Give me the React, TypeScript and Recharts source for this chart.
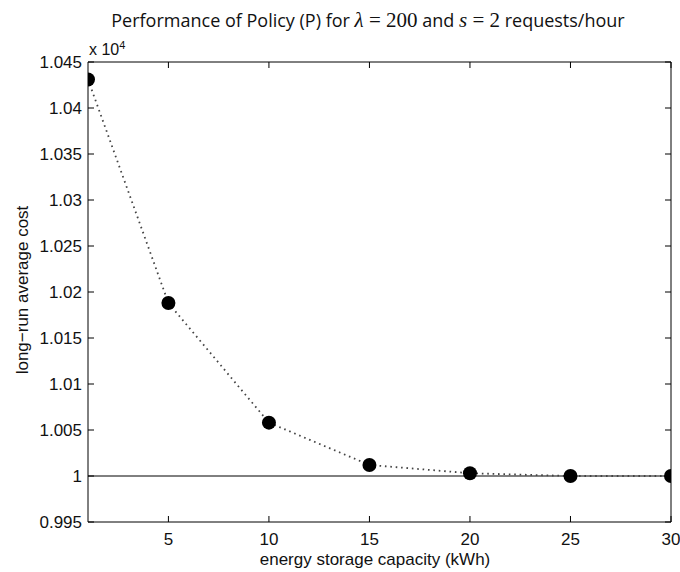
import React from 'react';
import { LineChart, Line, XAxis, YAxis, ReferenceLine } from 'recharts';

// storage capacity (kWh) and long-run average cost (x 10^4)
const capacity = [1, 5, 10, 15, 20, 25, 30];
const avgCost = [1.0431, 1.0188, 1.0058, 1.0012, 1.0003, 1.0, 1.0];

const xTicks = [5, 10, 15, 20, 25, 30];
const yTicks = [0.995, 1.0, 1.005, 1.01, 1.015, 1.02, 1.025, 1.03, 1.035, 1.04, 1.045];

const data = capacity.map((c, i) => ({ capacity: c, cost: avgCost[i] }));

const W = 680;
const H = 572;
const FONT = '"Liberation Sans", Arial, sans-serif';
const tickStyle = { fontFamily: FONT, fontSize: 17, fill: '#111' };
const fmtY = (v: number) => String(Number(v.toFixed(3)));
const blank = () => '';
const math = { fontFamily: '"Liberation Serif", serif', fontSize: 21 };

export default function App() {
  return (
    <div style={{ position: 'absolute', left: 0, top: 0, width: W, height: H, background: '#fff', overflow: 'hidden' }}>
      <div
        style={{
          position: 'absolute', top: 20, left: 368, transform: 'translate(-50%, -50%)',
          fontFamily: '"Open Sans", sans-serif', fontSize: 18, color: '#111', whiteSpace: 'nowrap',
        }}
      >
        Performance of Policy (P) for <span style={math}><i>λ</i> = 200</span> and{' '}
        <span style={math}><i>s</i> = 2</span> requests/hour
      </div>
      <div style={{ position: 'absolute', left: 89, top: 39, fontFamily: FONT, fontSize: 16, color: '#111' }}>
        x 10<sup style={{ fontSize: 11 }}>4</sup>
      </div>
      <div
        style={{
          position: 'absolute', left: 23, top: 290, transform: 'translate(-50%, -50%) rotate(-90deg)',
          fontFamily: FONT, fontSize: 17, color: '#111', whiteSpace: 'nowrap',
        }}
      >
        long−run average cost
      </div>
      <div
        style={{
          position: 'absolute', left: 375, top: 560, transform: 'translate(-50%, -50%)',
          fontFamily: FONT, fontSize: 17, color: '#111', whiteSpace: 'nowrap',
        }}
      >
        energy storage capacity (kWh)
      </div>
      <LineChart width={W} height={H} data={data} margin={{ top: 61, right: 8, bottom: 20, left: 28 }}>
        <XAxis
          dataKey="capacity"
          type="number"
          domain={[1, 30]}
          ticks={xTicks}
          allowDataOverflow
          height={30}
          stroke="#000"
          tickSize={-6}
          tickMargin={17}
          tick={tickStyle}
        />
        <XAxis
          xAxisId="top"
          orientation="top"
          dataKey="capacity"
          type="number"
          domain={[1, 30]}
          ticks={xTicks}
          allowDataOverflow
          height={1}
          stroke="#000"
          tickSize={-6}
          tickFormatter={blank}
        />
        <YAxis
          type="number"
          domain={[0.995, 1.045]}
          ticks={yTicks}
          allowDataOverflow
          width={60}
          stroke="#000"
          tickSize={-6}
          tickMargin={12}
          tick={tickStyle}
          tickFormatter={fmtY}
        />
        <YAxis
          yAxisId="right"
          orientation="right"
          type="number"
          domain={[0.995, 1.045]}
          ticks={yTicks}
          allowDataOverflow
          width={1}
          stroke="#000"
          tickSize={-6}
          tickFormatter={blank}
        />
        <ReferenceLine y={1} stroke="#000" strokeWidth={1} />
        {/* invisible copy so the top and right axes have a series bound to them */}
        <Line
          xAxisId="top"
          yAxisId="right"
          dataKey="cost"
          stroke="none"
          dot={false}
          activeDot={false}
          isAnimationActive={false}
        />
        <Line
          dataKey="cost"
          stroke="#444"
          strokeWidth={1.8}
          strokeDasharray="1.6 3.8"
          dot={{ r: 7, fill: '#000', stroke: '#000', strokeWidth: 0 }}
          isAnimationActive={false}
        />
      </LineChart>
    </div>
  );
}
